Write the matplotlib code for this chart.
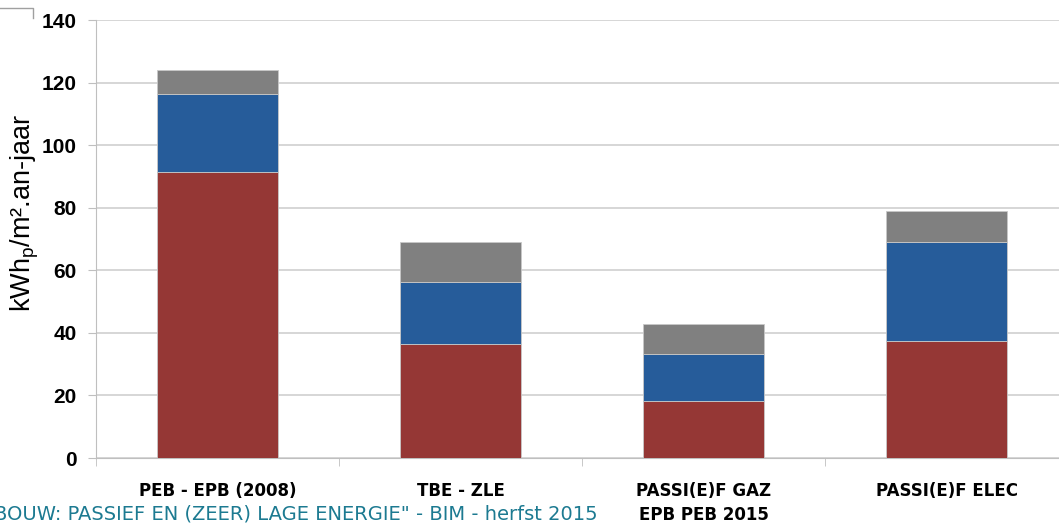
import matplotlib.pyplot as plt
import matplotlib.lines as mlines
import numpy as np

categories = ['PEB - EPB (2008)', 'TBE - ZLE', 'PASSI(E)F GAZ\nEPB PEB 2015', 'PASSI(E)F ELEC']
red_vals = [91.5, 36.5, 18.2, 37.4]
blue_vals = [24.7, 19.8, 15.0, 31.6]
gray_vals = [7.8, 12.7, 9.6, 10.0]

fig = plt.figure(figsize=(10.59, 5.26), dpi=100)
ax = fig.add_axes([96 / 1059, 68 / 526, 972 / 1059, 438 / 526])

x = np.arange(len(categories))
red = np.array(red_vals)
blue = np.array(blue_vals)
gray = np.array(gray_vals)
ax.bar(x, red, width=0.5, color='#953735', edgecolor='#c8c8c8', linewidth=0.6, zorder=3)
ax.bar(x, blue, width=0.5, bottom=red, color='#265C9A', edgecolor='#c8c8c8', linewidth=0.6, zorder=3)
ax.bar(x, gray, width=0.5, bottom=red + blue, color='#808080', edgecolor='#c8c8c8', linewidth=0.6, zorder=3)

ax.set_xlim(-0.5, len(categories) - 0.5)
ax.set_ylim(0, 140)
ax.set_yticks(range(0, 141, 20))
ax.yaxis.grid(True, color='#d0d0d0', linewidth=1.2, zorder=0)
ax.set_axisbelow(True)
for s in ['top', 'right']:
    ax.spines[s].set_visible(False)
ax.spines['left'].set_color('#bfbfbf')
ax.spines['bottom'].set_color('#bfbfbf')
ax.tick_params(axis='y', length=6, color='#bfbfbf', pad=8)
ax.tick_params(axis='x', length=0, pad=17)
ax.set_xticks(np.arange(-0.5, len(categories), 1), minor=True)
ax.tick_params(axis='x', which='minor', length=6, color='#bfbfbf')

ax.set_xticks(x)
ax.set_xticklabels(categories, fontweight='bold', fontsize=12,
                   family=['Liberation Sans Narrow', 'DejaVu Sans'], linespacing=1.45, va='top')
for lab in ax.get_yticklabels():
    lab.set_fontweight('bold')
    lab.set_fontsize(15)
    lab.set_family(['Liberation Sans', 'DejaVu Sans'])

fig.text(25 / 1059, 1 - 213 / 526, 'kWh$_\\mathregular{p}$/m².an-jaar', rotation=90, ha='center', va='center',
         fontsize=19.5, family=['Liberation Sans', 'DejaVu Sans'])

fig.text(598 / 1059, 1 - 514 / 526, 'BOUW: PASSIEF EN (ZEER) LAGE ENERGIE" - BIM - herfst 2015',
         ha='right', va='center', color='#1C7A91', fontsize=14,
         family=['Liberation Sans Narrow', 'DejaVu Sans'])

fig.add_artist(mlines.Line2D([0, 33 / 1059, 33 / 1059], [1 - 8 / 526, 1 - 8 / 526, 1 - 18 / 526],
                             color='#a0a0a0', linewidth=1, transform=fig.transFigure))

plt.savefig('out.png', dpi=100)
